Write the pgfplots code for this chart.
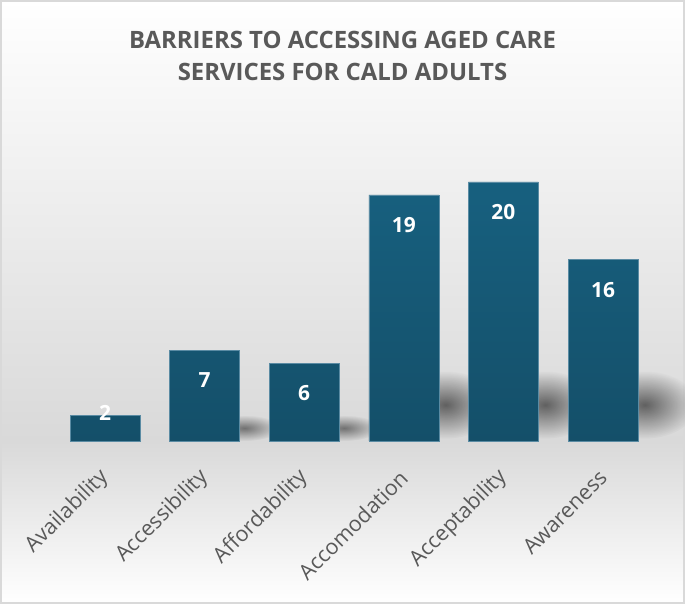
\documentclass[border=0pt]{standalone}
\usepackage{fontspec}
\setmainfont{Open Sans}
\usepackage{pgfplots}
\pgfplotsset{compat=1.18}
\usetikzlibrary{fadings}
\definecolor{barTop}{HTML}{17607F}
\definecolor{barBot}{HTML}{144F69}
\definecolor{barEdge}{HTML}{5A8BA3}
\definecolor{txtGrey}{HTML}{595959}
\definecolor{bgMid}{HTML}{D9D9D9}
\tikzfading[name=softblob, inner color=transparent!20, outer color=transparent!100]

\begin{document}
\begin{tikzpicture}[x=1bp,y=1bp]
\path[use as bounding box] (0,0) rectangle (685,604);
% chart area background
\shade[top color=white, bottom color=bgMid] (0,163) rectangle (685,604);
\shade[top color=bgMid, bottom color=white] (0,0) rectangle (685,163);
\draw[bgMid, line width=2bp] (1,1) rectangle (684,603);

\node[font=\bfseries\fontsize{24}{32}\selectfont, text=txtGrey, align=center]
  at (342.5,548) {BARRIERS TO ACCESSING AGED CARE\\SERVICES FOR CALD ADULTS};

\begin{axis}[
  at={(55.2bp,163bp)}, anchor=south west,
  scale only axis, width=597.6bp, height=336.7bp,
  xmin=-0.5, xmax=5.5, ymin=0, ymax=26,
  axis line style={draw=none},
  tick style={draw=none}, major tick length=0pt,
  ytick=\empty,
  xtick={0,...,5},
  xticklabels={Availability, Accessibility, Affordability, Accomodation, Acceptability, Awareness},
  xticklabel style={rotate=45, anchor=east, inner sep=0pt,
    font=\fontsize{21.5}{21.5}\selectfont, text=txtGrey},
  xticklabel shift=33bp,
  /pgf/number format/assume math mode=true,
  clip=false,
]
% soft shadows behind the bars
\fill[black, opacity=0.6, path fading=softblob] (axis cs:1.4,1.0) ellipse [x radius=36bp, y radius=13bp];
\fill[black, opacity=0.6, path fading=softblob] (axis cs:2.4,1.0) ellipse [x radius=36bp, y radius=13bp];
\fill[black, opacity=0.7, path fading=softblob] (axis cs:3.42,2.8) ellipse [x radius=52bp, y radius=34bp];
\fill[black, opacity=0.7, path fading=softblob] (axis cs:4.42,2.8) ellipse [x radius=52bp, y radius=34bp];
\fill[black, opacity=0.7, path fading=softblob] (axis cs:5.42,2.8) ellipse [x radius=52bp, y radius=34bp];

\addplot[ybar, bar width=70bp, bar shift=0pt,
  top color=barTop, bottom color=barBot, draw=barEdge, line width=0.6bp,
  point meta=explicit,
  visualization depends on={y \as \rawy},
  nodes near coords,
  nodes near coords style={anchor=center, text=white,
    font=\bfseries\fontsize{21}{21}\selectfont,
    yshift={ifthenelse(\rawy>4,-30,2)}},
] coordinates {(0,2) [2] (1,7) [7] (2,6) [6] (3,19) [19] (4,20) [20] (5,14) [16]};
\end{axis}
\end{tikzpicture}
\end{document}
